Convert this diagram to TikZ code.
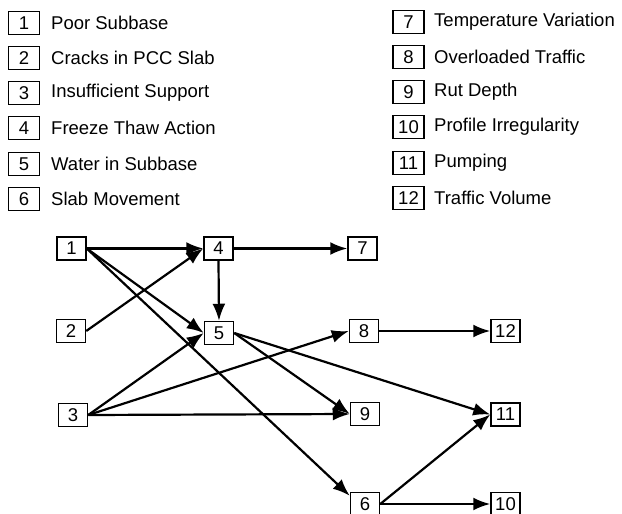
\documentclass[tikz,border=0pt]{standalone}
\usepackage{fontspec}
\setmainfont{Liberation Sans}
\usetikzlibrary{arrows.meta}
\tikzset{
  numbox/.style={draw, line width=1.5pt, minimum width=29pt, minimum height=23pt,
    inner sep=0pt, font=\fontsize{18.5}{18.5}\selectfont},
  keytext/.style={anchor=west, inner sep=0pt, font=\fontsize{18.5}{18.5}\selectfont},
  arr/.style={-{Latex[length=17pt,width=13pt]}, line width=2.2pt}
}
\begin{document}
\begin{tikzpicture}[x=1pt, y=-1pt]
\useasboundingbox (0,0) rectangle (622,514);

% key, left column
\foreach \k/\yy/\txt in {1/23/Poor Subbase, 2/58/Cracks in PCC Slab,
    3/93/Insufficient Support, 4/128/Freeze Thaw Action,
    5/164/Water in Subbase, 6/199/Slab Movement} {
  \node[numbox, minimum width=31pt] (k\k) at (24,\yy) {\k};
  \node[keytext] (kt\k) at (51,\yy) {\txt};
}
% key, right column
\foreach \k/\yy/\txt in {7/22/Temperature Variation, 8/57/Overloaded Traffic,
    9/92/Rut Depth, 10/127/Profile Irregularity,
    11/163/Pumping, 12/198/Traffic Volume} {
  \node[numbox, minimum width=31pt] (k\k) at (408.5,\yy) {\k};
  \node[keytext] (kt\k) at (434,\yy) {\txt};
}

% network of factors
\node[numbox] (n1)  at (71.5,248.5) {1};
\node[numbox] (n4)  at (218.5,248.5) {4};
\node[numbox] (n7)  at (362.5,248.5) {7};
\node[numbox] (n2)  at (71,331) {2};
\node[numbox] (n5)  at (219,333) {5};
\node[numbox] (n8)  at (364,331) {8};
\node[numbox] (n12) at (505.5,331) {12};
\node[numbox] (n3)  at (73,415) {3};
\node[numbox] (n9)  at (365,414) {9};
\node[numbox] (n11) at (505.5,414.5) {11};
\node[numbox] (n6)  at (365,504) {6};
\node[numbox] (n10) at (505.5,504) {10};

\draw[arr] (n1.east) -- (n4.west);
\draw[arr] (n1.east) -- (n5.west);
\draw[arr] (n1.east) -- ([yshift=-4pt]n6.north west);
\draw[arr] (n2.east) -- (n4.west);
\draw[arr] (n4.east) -- (n7.west);
\draw[arr] (n4.south) -- (n5.north);
\draw[arr] (n3.east) -- (n5.west);
\draw[arr] (n3.east) -- (n8.west);
\draw[arr] (n3.east) -- (n9.west);
\draw[arr] (n5.east) -- (n9.west);
\draw[arr] (n5.east) -- (n11.west);
\draw[arr] (n8.east) -- (n12.west);
\draw[arr] (n6.east) -- (n11.west);
\draw[arr] (n6.east) -- (n10.west);
\end{tikzpicture}
\end{document}
